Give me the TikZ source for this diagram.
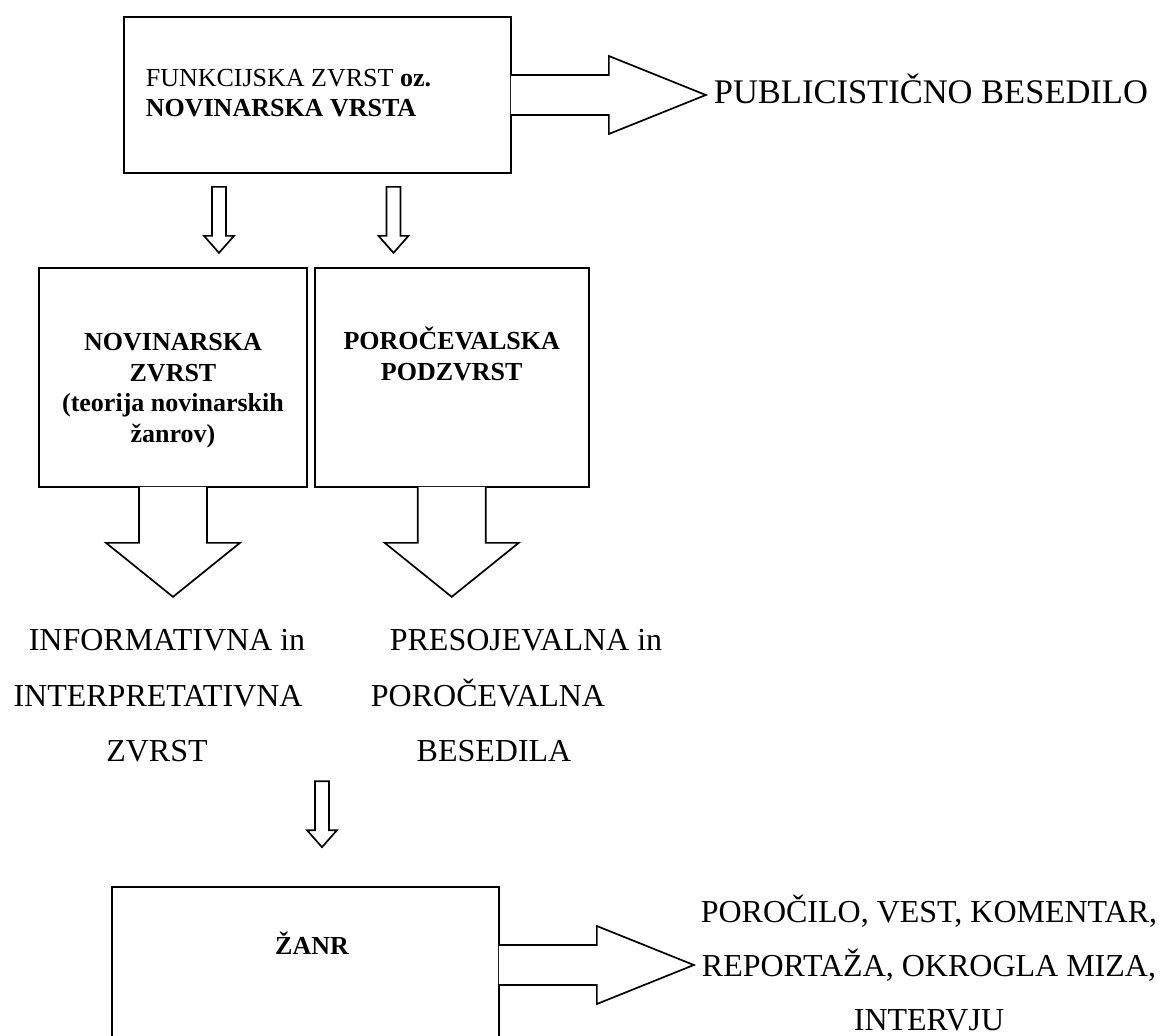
\documentclass[tikz,border=0pt]{standalone}
\usepackage{fontspec}
\setmainfont{Liberation Serif}
\usetikzlibrary{positioning,calc}

\begin{document}
\begin{tikzpicture}
	[x=1pt, y=-1pt, inner sep=0pt, line width=1.7pt,
	okvir/.style		= {draw, rectangle, line width=1.7pt},
	puscica/.style		= {draw, fill=white, line width=1.7pt, line join=miter},
	krepko/.style		= {font=\fontsize{26}{30.5}\selectfont\bfseries, align=center, anchor=base},
	besedilo/.style		= {font=\fontsize{32}{54}\selectfont, align=center, anchor=base},
	desnapuscica/.pic	= {\draw [puscica] (-1,-20) -- (97,-20) -- (97,-39) -- (194,0) -- (97,39) -- (97,20) -- (-1,20);},
	dolpuscica/.pic		= {\draw [puscica] (-34,-1) -- (-34,55) -- (-67,55) -- (0,109) -- (67,55) -- (34,55) -- (34,-1);},
	malapuscica/.pic	= {\draw [puscica] (-7,0) -- (7,0) -- (7,49) -- (15,49) -- (0,66) -- (-15,49) -- (-7,49) -- cycle;}]

	\useasboundingbox (0,0) rectangle (1163,1036);
	\clip (0,0) rectangle (1163,1036);

	% okvirji
	\node [okvir, minimum width=387pt, minimum height=156pt]	at (317.5,95)		(funk)	{};
	\node [okvir, minimum width=268pt, minimum height=219pt]	at (173,377.5)		(novz)	{};
	\node [okvir, minimum width=274pt, minimum height=219pt]	[right = 6pt of novz]	(poro)	{};
	\node [okvir, minimum width=387pt, minimum height=156pt]	at (305.5,965)		(zanr)	{};

	% puscice
	\pic at (funk.east)	{desnapuscica};
	\pic at (zanr.east)	{desnapuscica};
	\pic at (novz.south)	{dolpuscica};
	\pic at (poro.south)	{dolpuscica};
	\pic at ($(funk.south)+(-98.5,13)$)	{malapuscica};
	\pic at ($(funk.south)+(76,13)$)	{malapuscica};
	\pic at ($(zanr.north)+(16.5,-105)$)	{malapuscica};

	% besedila v okvirjih (base = zadnja vrstica)
	\node [anchor=base west, align=left, font=\fontsize{26}{30}\selectfont] at (145,116) (funkt)
		{FUNKCIJSKA ZVRST \textbf{oz.}\\\textbf{NOVINARSKA VRSTA}};
	\node [krepko] at (novz.center |- 0,442)	(novzt)	{NOVINARSKA\\ZVRST\\(teorija novinarskih\\žanrov)};
	\node [krepko] at (poro.center |- 0,380)	(porot)	{POROČEVALSKA\\PODZVRST};
	\node [krepko] at (312,954)			(zanrt)	{ŽANR};

	% prosta besedila
	\node [besedilo, anchor=base west, font=\fontsize{34.5}{40}\selectfont] at (713,103)	(pub)	{PUBLICISTIČNO BESEDILO};
	\node [besedilo] at (167,650)	(inf1)	{INFORMATIVNA in};
	\node [besedilo] at (158,706)	(inf2)	{INTERPRETATIVNA};
	\node [besedilo] at (157,761)	(inf3)	{ZVRST};
	\node [besedilo] at (526,650)	(pre1)	{PRESOJEVALNA in};
	\node [besedilo] at (488,706)	(pre2)	{POROČEVALNA};
	\node [besedilo] at (494,761)	(pre3)	{BESEDILA};
	\node [besedilo] at (929,1030)	(vrste)	{POROČILO, VEST, KOMENTAR,\\REPORTAŽA, OKROGLA MIZA,\\INTERVJU};
\end{tikzpicture}
\end{document}
